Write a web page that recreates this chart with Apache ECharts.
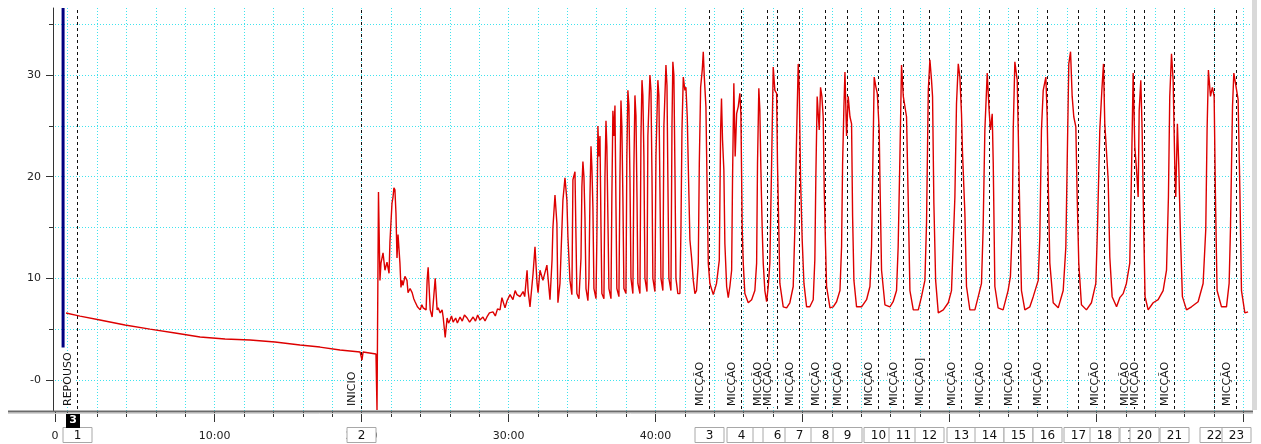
<!DOCTYPE html>
<html><head><meta charset="utf-8">
<script src="https://cdn.jsdelivr.net/npm/echarts@6/dist/echarts.min.js"></script>
<style>html,body{margin:0;padding:0;background:#fff;}#c{width:1261px;height:444px;}</style>
</head><body><div id="c"></div>
<script>
// time in minutes, value in axis units
const restPhase = [[-0.11,6.59],[0.84,6.29],[2.20,5.90],[3.90,5.41],[5.60,5.01],[7.31,4.62],[9.01,4.23],[10.71,4.03],[12.41,3.93],[14.11,3.74],[15.81,3.44],[17.17,3.24],[18.53,2.95],[19.90,2.75],[19.96,2.75],[20.03,1.97],[20.10,2.75],[20.98,2.56]];
const recoveryPhase = [[21.05,-2.95],[21.12,-2.95],[21.15,18.5],[21.18,15.9],[21.25,9.8],[21.32,11.5],[21.46,12.5],[21.59,10.8],[21.73,11.6],[21.87,10.5],[21.93,13.6],[22.07,17.4],[22.14,18.0],[22.20,18.9],[22.27,18.7],[22.34,16.4],[22.41,12.0],[22.48,14.3],[22.61,11.5],[22.68,9.1],[22.75,9.8],[22.82,9.3],[22.95,10.2],[23.09,9.8],[23.16,8.6],[23.30,9.0],[23.44,8.6],[23.55,8.0],[23.64,7.7],[23.80,7.2],[23.99,6.9],[24.10,7.4],[24.19,7.1],[24.39,6.9],[24.46,9.8],[24.53,11.1],[24.67,6.9],[24.80,6.2],[25.01,10.0],[25.14,6.9],[25.21,7.1],[25.35,6.6],[25.48,6.9],[25.55,6.2],[25.69,4.2],[25.82,6.1],[25.92,5.6],[26.02,5.9],[26.12,6.3],[26.23,5.7],[26.40,6.1],[26.52,5.6],[26.70,6.2],[26.85,5.8],[27.00,6.4],[27.18,6.1],[27.35,5.7],[27.59,6.2],[27.75,5.8],[27.90,6.4],[28.05,5.9],[28.26,6.2],[28.40,5.8],[28.53,6.2],[28.70,6.6],[28.94,6.7],[29.10,6.3],[29.25,7.0],[29.42,6.9],[29.55,8.1],[29.76,7.1],[29.90,7.8],[30.10,8.4],[30.30,7.9],[30.45,8.8],[30.57,8.4],[30.78,8.2],[30.99,8.7],[31.10,8.2],[31.26,10.8],[31.33,8.8],[31.46,7.2],[31.67,10.5],[31.80,13.1],[31.94,9.5],[32.01,8.6],[32.14,10.8],[32.34,9.8],[32.61,11.3],[32.82,7.9],[32.96,11.8],[33.02,15.0],[33.16,18.2],[33.29,15.4],[33.36,7.6],[33.50,9.5],[33.70,17.7],[33.84,19.9],[33.97,17.7],[34.04,14.1],[34.18,9.8],[34.31,8.4],[34.38,19.7],[34.52,20.5]];
const buildupPhase = [[34.59,14],[34.65,8.5],[34.79,8.0],[34.93,12],[34.99,19],[35.06,21.5],[35.13,20],[35.20,16],[35.27,9],[35.40,7.8],[35.47,10],[35.54,18],[35.61,23],[35.67,21],[35.74,17],[35.81,9],[35.95,8],[36.01,14],[36.08,25],[36.15,22],[36.22,24],[36.29,15],[36.35,8.5],[36.49,8],[36.56,20],[36.63,25.5],[36.69,23],[36.76,16],[36.83,9],[36.97,8],[37.03,18],[37.10,26.5],[37.17,24],[37.24,27],[37.31,17],[37.37,9],[37.51,8.2],[37.58,20],[37.65,27.5],[37.71,25],[37.78,18],[37.85,9],[37.99,8.5],[38.05,22],[38.12,28.5],[38.19,27],[38.26,20],[38.33,10],[38.46,8.5],[38.53,21],[38.60,28],[38.67,26],[38.74,18],[38.80,9.5],[38.94,8.5],[39.01,24],[39.08,29.5],[39.14,28],[39.21,22],[39.28,10],[39.42,8.7],[39.48,24],[39.62,30],[39.69,28.5],[39.76,20],[39.82,10],[39.96,8.7],[40.03,22],[40.16,29.5],[40.23,28],[40.30,19],[40.37,10],[40.50,8.8],[40.57,25],[40.71,31],[40.78,29],[40.84,20],[40.91,10],[41.05,8.8],[41.12,25],[41.18,31.3],[41.25,30],[41.32,21],[41.39,10],[41.52,8.5],[41.66,8.5]];
const cyclePhase = [[41.73,14.8],[41.80,24.6],[41.89,29.8],[42.00,28.5],[42.07,28.8],[42.16,25.9],[42.25,19.7],[42.34,13.8],[42.45,12.1],[42.57,9.8],[42.68,8.5],[42.79,8.8],[42.91,11.5],[42.98,21.3],[43.07,28.8],[43.18,30.5],[43.25,32.3],[43.32,29.8],[43.43,26.9],[43.52,18.0],[43.59,11.5],[43.70,9.5],[43.93,8.4],[44.15,9.5],[44.34,11.8],[44.43,24.6],[44.49,27.7],[44.56,23.6],[44.65,20.7],[44.72,13.4],[44.84,9.2],[44.95,8.1],[45.06,9.2],[45.18,10.8],[45.24,19.7],[45.33,29.2],[45.42,22.0],[45.52,26.2],[45.63,26.9],[45.74,28.2],[45.81,26.2],[45.90,14.8],[45.97,11.5],[46.08,8.5],[46.31,7.6],[46.54,7.9],[46.76,8.8],[46.88,11.5],[46.94,21.3],[47.03,28.7],[47.10,26.5],[47.17,20.7],[47.26,14.8],[47.33,11.5],[47.44,8.8],[47.56,7.7],[47.67,9.2],[47.78,11.5],[47.90,21.3],[48.01,30.8],[48.12,28.5],[48.24,28.2],[48.30,21.3],[48.40,14.1],[48.46,9.5],[48.69,7.2],[48.92,7.1],[49.14,7.6],[49.37,9.2],[49.48,14.8],[49.60,24.0],[49.71,31.1],[49.78,28.5],[49.87,19.7],[49.98,13.8],[50.10,9.5],[50.28,7.2],[50.50,7.2],[50.73,7.9],[50.84,11.8],[50.91,20.0],[51.00,27.9],[51.14,24.6],[51.23,28.8],[51.32,27.9],[51.41,25.9],[51.48,18.7],[51.57,13.1],[51.64,9.2],[51.87,7.1],[52.09,7.2],[52.32,7.7],[52.55,8.8],[52.66,13.1],[52.73,21.3],[52.82,26.9],[52.89,30.3],[53.00,24.0],[53.11,27.9],[53.23,25.9],[53.34,25.2],[53.41,16.1],[53.50,9.8],[53.68,7.2],[54.02,7.2],[54.36,7.9],[54.59,9.2],[54.70,13.1],[54.77,19.7],[54.88,29.8],[55.00,28.8],[55.09,28.2],[55.22,24.6],[55.27,19.7],[55.38,10.8],[55.61,7.4],[55.95,7.2],[56.17,7.7],[56.40,8.8],[56.51,13.1],[56.63,22.0],[56.74,31.0],[56.86,27.9],[56.97,27.9],[57.08,25.9],[57.19,18.0],[57.31,8.8],[57.54,6.9],[57.88,6.9],[58.10,8.2],[58.33,9.8],[58.44,15.4],[58.56,28.5],[58.67,31.5],[58.78,29.5],[58.85,27.9],[58.94,17.4],[59.06,9.8],[59.24,6.6],[59.58,6.9],[59.92,7.6],[60.14,8.8],[60.37,18.0],[60.48,27.2],[60.60,31.1],[60.71,29.8],[60.82,26.2],[60.89,22.3],[61.05,16.4],[61.16,9.2],[61.39,6.9],[61.73,6.9],[61.96,8.2],[62.18,9.5],[62.29,14.8],[62.41,24.6],[62.57,30.2],[62.70,26.5],[62.79,24.6],[62.91,26.2],[62.98,21.3],[63.09,9.2],[63.31,7.1],[63.65,6.9],[63.99,8.8],[64.15,10.2],[64.27,14.8],[64.34,24.6],[64.45,31.3],[64.61,29.5],[64.68,24.6],[64.79,16.1],[64.90,8.8],[65.13,6.9],[65.47,7.2],[65.70,8.2],[66.04,9.8],[66.15,14.1],[66.26,24.6],[66.38,28.5],[66.56,29.8],[66.65,25.9],[66.74,18.0],[66.83,11.5],[67.06,7.6],[67.40,7.1],[67.74,8.8],[67.92,13.1],[68.01,21.3],[68.12,31.1],[68.24,32.3],[68.35,27.9],[68.46,25.9],[68.60,24.9],[68.69,18.0],[68.80,11.5],[68.98,7.4],[69.32,6.9],[69.66,7.6],[69.96,9.5],[70.07,14.8],[70.23,24.6],[70.37,28.5],[70.48,31.1],[70.57,25.2],[70.68,22.6],[70.80,19.7],[70.91,12.1],[71.07,8.2],[71.37,7.2],[71.59,8.1],[71.82,8.5],[72.04,9.5],[72.27,11.5],[72.39,20.7],[72.50,30.2],[72.61,23.0],[72.73,20.7],[72.84,18.0],[72.91,26.5],[73.02,29.5],[73.11,24.6],[73.22,14.8],[73.31,8.2],[73.52,6.9],[73.86,7.6],[74.20,7.9],[74.54,8.8],[74.77,10.8],[74.90,18.0],[74.99,27.9],[75.11,32.1],[75.22,29.5],[75.33,21.3],[75.40,18.0],[75.51,25.2],[75.60,21.3],[75.72,14.1],[75.85,8.2],[76.13,6.9],[76.47,7.2],[76.92,7.7],[77.26,9.5],[77.44,14.8],[77.53,24.6],[77.62,30.5],[77.76,27.9],[77.89,28.8],[78.01,27.9],[78.10,18.0],[78.21,8.8],[78.51,7.2],[78.85,7.2],[79.03,9.5],[79.12,14.8],[79.26,26.9],[79.35,30.2],[79.48,30.3],[79.64,27.6],[79.76,18.7],[79.87,8.8],[80.10,6.6],[80.32,6.7]];

const eventTimes = [0.62,19.96,43.63,45.81,47.58,48.26,49.76,51.52,53.02,55.13,56.83,58.60,60.78,62.68,64.65,66.63,68.73,70.50,72.54,73.22,75.26,77.99,79.48];
const eventNumbers = ['1','2','3','4','5','6','7','8','9','10','11','12','13','14','15','16','17','18','19','20','21','22','23'];
const eventLabels = ['REPOUSO','INICIO','MICÇÃO','MICÇÃO','MICÇÃO','MICÇÃO','MICÇÃO','MICÇÃO','MICÇÃO','MICÇÃO','MICÇÃO','MICÇÃO]','MICÇÃO','MICÇÃO','MICÇÃO','MICÇÃO','','MICÇÃO','MICÇÃO','MICÇÃO','MICÇÃO','','MICÇÃO'];

const cursorTime = -0.31, cursorFrom = 3.2;
const cursorBoxTime = 0.37, cursorBoxLabel = '3';

const X_MIN = -0.86, X_MAX = 80.45, Y_MIN = -3.05, Y_MAX = 36.6;
const xMinorTicks = [0,2,4,6,8,10,12,14,16,18,20,22,24,26,28,30,32,34,36,38,40,42,44,46,48,50,52,54,56,58,60,62,64,66,68,70,72,74,76,78,80];
const xMajorTicks = [X_MIN,10,20,30,40,50,60,70,80];
const xLabelValues = [X_MIN,10,20,30,40];
const yMinorTicks = [0,5,10,15,20,25,30,35];
const yMajorTicks = [0,10,20,30];

const FONT = 'DejaVu Sans';
const GRID = '#3fe3ee';
const signal = restPhase.concat(recoveryPhase, buildupPhase, cyclePhase);

const chart = echarts.init(document.getElementById('c'), null, {renderer:'canvas'});
chart.setOption({
  animation:false,
  backgroundColor:'#fff',
  grid:{left:55, right:11, top:8, bottom:33, containLabel:false},
  xAxis:[
    {type:'value', min:X_MIN, max:X_MAX,
     axisLine:{show:false, onZero:false},
     axisTick:{show:true, customValues:xMinorTicks, length:6, lineStyle:{color:'#333'}},
     axisLabel:{show:true, customValues:xLabelValues, margin:20, color:'#222', fontFamily:FONT, fontSize:11,
       formatter:v => v < 0 ? '0' : Math.round(v) + ':00'},
     splitLine:{show:true, lineStyle:{color:GRID, type:[1,2], width:1}}},
    {type:'value', min:X_MIN, max:X_MAX, position:'bottom',
     axisLine:{show:false, onZero:false},
     axisTick:{show:true, customValues:xMajorTicks, length:11, lineStyle:{color:'#333'}},
     axisLabel:{show:false}, splitLine:{show:false}}
  ],
  yAxis:[
    {type:'value', min:Y_MIN, max:Y_MAX, offset:2,
     axisLine:{show:true, onZero:false, lineStyle:{color:'#333'}},
     axisTick:{show:true, customValues:yMinorTicks, length:4, lineStyle:{color:'#333'}},
     axisLabel:{show:false},
     splitLine:{show:true, lineStyle:{color:GRID, type:[1,2], width:1}}},
    {type:'value', min:Y_MIN, max:Y_MAX, offset:2, position:'left',
     axisLine:{show:false, onZero:false},
     axisTick:{show:true, customValues:yMajorTicks, length:7, lineStyle:{color:'#333'}},
     axisLabel:{show:true, customValues:yMajorTicks, margin:12, color:'#222', fontFamily:FONT, fontSize:11,
       formatter:v => v === 0 ? '-0' : String(v)},
     splitLine:{show:false}}
  ],
  graphic:[
    {type:'line', shape:{x1:8,y1:411.5,x2:1253,y2:411.5}, style:{stroke:'#6b6b6b', lineWidth:2}, z:50},
    {type:'line', shape:{x1:8,y1:413.5,x2:1253,y2:413.5}, style:{stroke:'#d4d4d4', lineWidth:1}, z:50},
    {type:'rect', shape:{x:1252,y:0,width:5,height:410}, style:{fill:'#d9d9d9'}, z:50}
  ],
  series:[
    {type:'custom', coordinateSystem:'cartesian2d', clip:false, silent:true, z:3,
     data:eventTimes.map(t => [t, 0]),
     renderItem:(params, api) => {
       const i = params.dataIndex;
       const cs = params.coordSys;
       const p = api.coord([api.value(0), 0]);
       const x = Math.round(p[0]) + 0.5;
       const bottom = cs.y + cs.height;
       const ch = [
         {type:'line', shape:{x1:x, y1:cs.y + 2, x2:x, y2:bottom - 1}, style:{stroke:'#111', lineWidth:1, lineDash:[3,3]}}
       ];
       if (eventLabels[i]) {
         ch.push({type:'text', x:x - 9, y:bottom - 4, rotation:Math.PI/2,
           style:{text:eventLabels[i], fill:'#111', font:'11px "' + FONT + '"', align:'left', verticalAlign:'middle',
             backgroundColor:'#fff', padding:[1,1,0,1]}});
       }
       ch.push({type:'rect', shape:{x:x - 14.5, y:bottom + 16.5, width:29, height:15}, style:{fill:'#fff', stroke:'#a8a8a8', lineWidth:1}});
       ch.push({type:'text', x:x, y:bottom + 24.5, style:{text:eventNumbers[i], fill:'#111', font:'12px "' + FONT + '"', align:'center', verticalAlign:'middle'}});
       return {type:'group', children:ch};
     }},
    {type:'line', data:signal, showSymbol:false, symbol:'none', z:4,
     lineStyle:{color:'#dd0000', width:1.4}, itemStyle:{color:'#dd0000'}},
    {type:'line', data:[[cursorTime, cursorFrom],[cursorTime, Y_MAX]], showSymbol:false, symbol:'none', z:5,
     lineStyle:{color:'#000080', width:3}},
    {type:'custom', coordinateSystem:'cartesian2d', clip:false, silent:true, z:6,
     data:[[cursorBoxTime, 0]],
     renderItem:(params, api) => {
       const cs = params.coordSys;
       const p = api.coord([api.value(0), 0]);
       const bottom = cs.y + cs.height;
       return {type:'group', children:[
         {type:'rect', shape:{x:Math.round(p[0]) - 7, y:bottom + 2, width:14, height:15}, style:{fill:'#000'}},
         {type:'text', x:Math.round(p[0]), y:bottom + 9.5, style:{text:cursorBoxLabel, fill:'#fff', font:'bold 11px "' + FONT + '"', align:'center', verticalAlign:'middle'}}
       ]};
     }}
  ]
});
</script></body></html>
